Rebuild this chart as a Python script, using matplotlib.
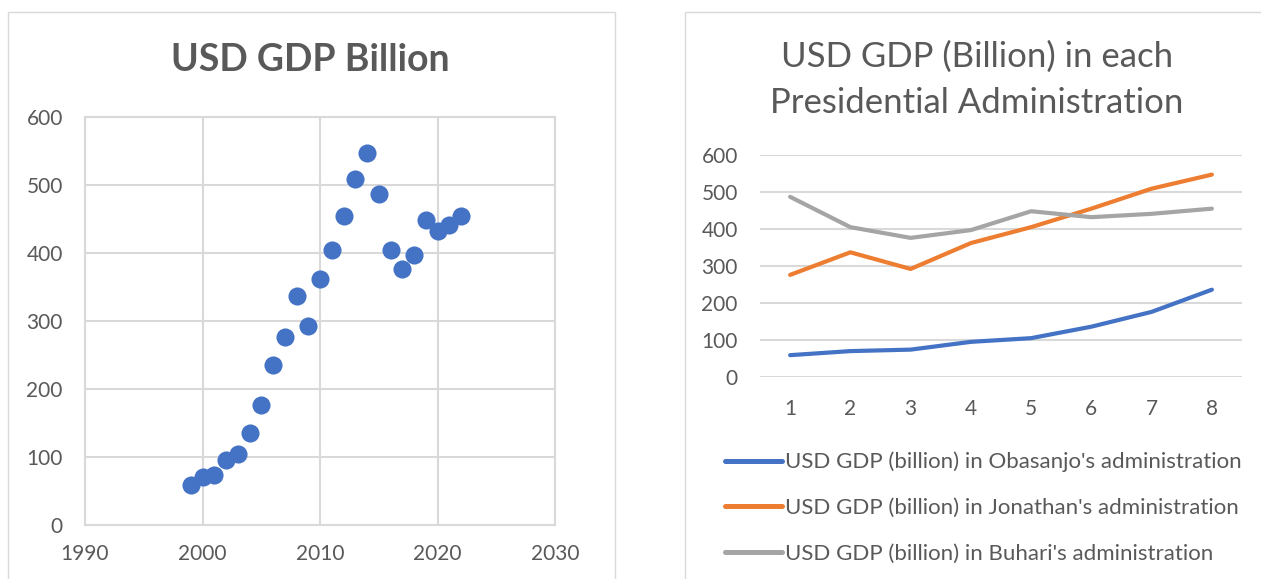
import matplotlib.pyplot as plt
from matplotlib.patches import Rectangle

# GDP in USD billions, 1999-2022
years = [1999, 2000, 2001, 2002, 2003, 2004, 2005, 2006, 2007, 2008, 2009, 2010,
         2011, 2012, 2013, 2014, 2015, 2016, 2017, 2018, 2019, 2020, 2021, 2022]
gdp = [59, 70, 74, 95, 105, 136, 176, 236, 276, 337, 292, 362,
       405, 455, 509, 547, 487, 405, 376, 397, 448, 432, 441, 455]

# years into each administration
term_year = [1, 2, 3, 4, 5, 6, 7, 8]
obasanjo = [59, 70, 74, 95, 105, 136, 176, 236]
jonathan = [276, 337, 292, 362, 405, 455, 509, 547]
buhari = [487, 405, 376, 397, 448, 432, 441, 455]

plt.rcParams['font.family'] = ['Lato', 'DejaVu Sans']
txt = '#595959'
grid = '#d9d9d9'

W, H = 1261, 579
fig = plt.figure(figsize=(W / 100, H / 100), dpi=100)

def box(x0, y0, x1, y1):
    return [x0 / W, 1 - y1 / H, (x1 - x0) / W, (y1 - y0) / H]

# chart frames
for x0, x1 in [(8, 615), (685, 1275)]:
    fig.patches.append(Rectangle((x0 / W, -0.05), (x1 - x0) / W, 1 - 12 / H + 0.05,
                                 transform=fig.transFigure, fill=False,
                                 edgecolor=grid, linewidth=1))

# scatter of yearly GDP
ax1 = fig.add_axes(box(85, 117, 555, 525))
ax1.scatter(years, gdp, s=170, color='#4472C4', zorder=3, linewidths=0)
ax1.set_xlim(1990, 2030)
ax1.set_ylim(0, 600)
ax1.set_xticks([1990, 2000, 2010, 2020, 2030])
ax1.set_yticks(range(0, 601, 100))
ax1.grid(True, color=grid, linewidth=1.5)
for s in ax1.spines.values():
    s.set_color(grid)
    s.set_linewidth(1.5)
ax1.tick_params(length=0, colors=txt, labelsize=15)
ax1.tick_params(axis='x', pad=14)
ax1.tick_params(axis='y', pad=16)
fig.text(310 / W, 1 - 60 / H, 'USD GDP Billion', fontsize=27, fontweight='bold',
         color=txt, ha='center', va='center')

# GDP per administration
ax2 = fig.add_axes(box(760, 155, 1242, 377))
l1, = ax2.plot(term_year, obasanjo, color='#4472C4', linewidth=3,
               solid_capstyle='round', label="USD GDP (billion) in Obasanjo's administration")
l2, = ax2.plot(term_year, jonathan, color='#ED7D31', linewidth=3,
               solid_capstyle='round', label="USD GDP (billion) in Jonathan's administration")
l3, = ax2.plot(term_year, buhari, color='#A5A5A5', linewidth=3,
               solid_capstyle='round', label="USD GDP (billion) in Buhari's administration")
ax2.set_xlim(0.5, 8.5)
ax2.set_ylim(0, 600)
ax2.set_xticks(term_year)
ax2.set_yticks(range(0, 601, 100))
ax2.yaxis.grid(True, color=grid, linewidth=1.5)
ax2.set_axisbelow(True)
for s in ax2.spines.values():
    s.set_visible(False)
ax2.tick_params(length=0, colors=txt, labelsize=15)
ax2.tick_params(axis='x', pad=16)
ax2.tick_params(axis='y', pad=16)
fig.text(977 / W, 1 - 80 / H, 'USD GDP (Billion) in each\nPresidential Administration',
         fontsize=25, color=txt, ha='center', va='center', linespacing=1.55)
leg = ax2.legend(handles=[l1, l2, l3], loc='upper left', bbox_to_anchor=(-0.091, -0.297),
                 frameon=False, fontsize=16, labelcolor=txt, handlelength=2.55,
                 handletextpad=0.15, labelspacing=1.16, borderaxespad=0)
for h in leg.get_lines():
    h.set_linewidth(3.6)

fig.savefig('out.png', dpi=100)
